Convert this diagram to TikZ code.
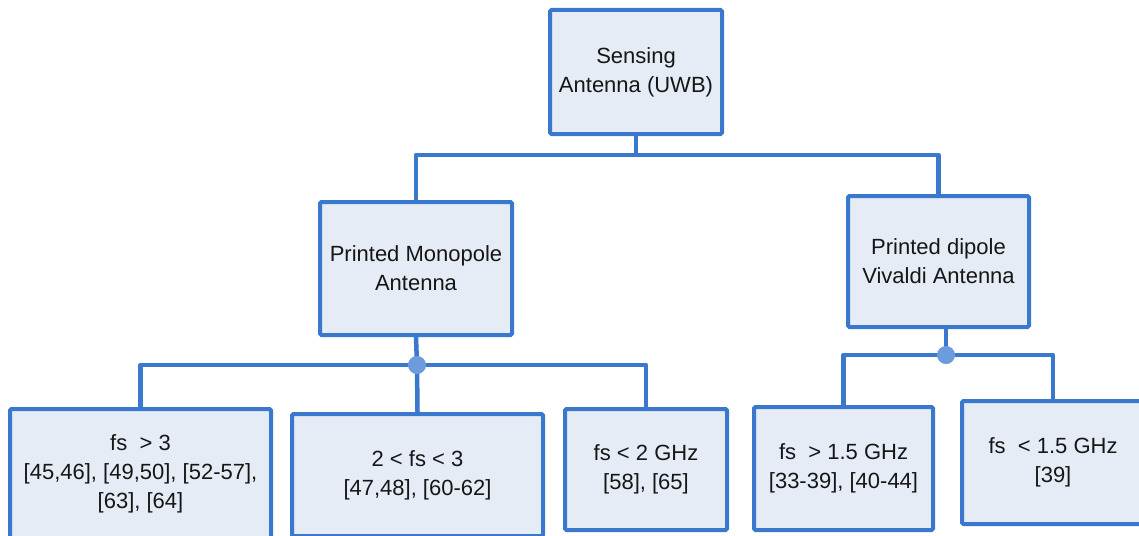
\documentclass[tikz,border=0pt]{standalone}
\usepackage{fontspec}
\setmainfont{Liberation Sans}
\definecolor{edgeblue}{RGB}{58,120,206}
\definecolor{boxfill}{RGB}{230,236,246}
\definecolor{dotblue}{RGB}{108,155,222}
\definecolor{inkgray}{RGB}{22,22,22}
\tikzset{
  treebox/.style={draw=edgeblue, fill=boxfill, line width=4pt, rounded corners=1.5pt,
    inner sep=0pt, align=center, text=inkgray,
    font=\fontsize{22}{29}\selectfont},
  wire/.style={draw=edgeblue, line width=4.5pt, line join=round},
  joint/.style={circle, fill=dotblue, draw=dotblue, line width=1pt, inner sep=0pt, minimum size=17pt}
}
\begin{document}
\begin{tikzpicture}[x=1pt, y=-1pt]
\useasboundingbox (0,0) rectangle (1139,535);
\clip (0,0) rectangle (1139,535);

% boxes
\node[treebox, minimum width=172pt, minimum height=124pt] (top) at (636,72) {Sensing\\Antenna (UWB)};
\node[treebox, minimum width=192pt, minimum height=133pt] (mono) at (416,268.5) {Printed Monopole\\Antenna};
\node[treebox, minimum width=181pt, minimum height=131pt] (dip) at (938.5,261.5) {Printed dipole\\Vivaldi Antenna};
\node[treebox, minimum width=261pt, minimum height=129pt] (c1) at (140.5,473.5) {fs~~> 3\\{}[45,46], [49,50], [52-57],\\{}[63], [64]};
\node[treebox, minimum width=251pt, minimum height=122pt] (c2) at (417.5,475) {2 < fs < 3\\{}[47,48], [60-62]};
\node[treebox, minimum width=162pt, minimum height=121pt] (c3) at (646,469.5) {fs < 2 GHz\\{}[58], [65]};
\node[treebox, minimum width=179pt, minimum height=123pt] (c4) at (843.5,468.5) {fs~~> 1.5 GHz\\{}[33-39], [40-44]};
\node[treebox, minimum width=182pt, minimum height=123pt] (c5) at (1053,462.5) {fs~~< 1.5 GHz\\{}[39]};

% junction points
\coordinate (j1) at (636,155);
\coordinate (j2) at (417,365);
\coordinate (j3) at (946,355);

% connectors
\draw[wire] (top.south) -- (j1);
\draw[wire] (mono.north) |- (j1) -| (dip.north);
\draw[wire] (mono.south) -- (j2);
\draw[wire] (c1.north) |- (j2) -| (c3.north);
\draw[wire] (j2) -- (c2.north);
\draw[wire] ([xshift=7.5pt]dip.south) -- (j3);
\draw[wire] (c4.north) |- (j3) -| (c5.north);

% branch dots
\node[joint] (d2) at (j2) {};
\node[joint] (d3) at (j3) {};
\end{tikzpicture}
\end{document}
